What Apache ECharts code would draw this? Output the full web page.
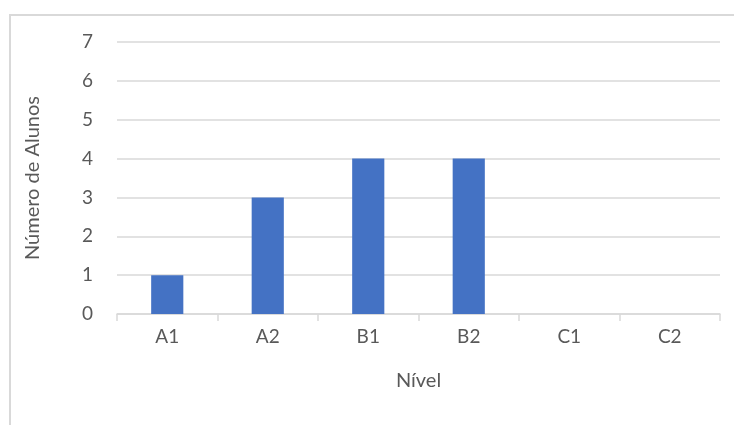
<!DOCTYPE html>
<html>
<head>
<meta charset="utf-8">
<script src="https://cdn.jsdelivr.net/npm/echarts@6/dist/echarts.min.js"></script>
<style>
  html, body { margin: 0; padding: 0; background: #fff; }
  #frame { position: absolute; left: 9px; top: 14px; width: 740px; height: 430px; border: 2px solid #d9d9d9; box-sizing: border-box; }
  #chart { position: absolute; left: 0; top: 0; width: 734px; height: 425px; }
</style>
</head>
<body>
<div id="frame"></div>
<div id="chart"></div>
<script>
// Students per language level
const levels = ['A1', 'A2', 'B1', 'B2', 'C1', 'C2'];
const students = [1, 3, 4, 4, 0, 0];
const yTicks = [0, 1, 2, 3, 4, 5, 6, 7];

const textColor = '#595959';
const lineColor = '#d9d9d9';
const fontFamily = 'Lato, "Open Sans", sans-serif';

const chart = echarts.init(document.getElementById('chart'), null, { renderer: 'canvas' });
chart.setOption({
  animation: false,
  grid: { left: 117, right: 14, top: 42, bottom: 111, containLabel: false },
  xAxis: {
    type: 'category',
    data: levels,
    name: 'Nível',
    nameLocation: 'middle',
    nameGap: 57,
    nameTextStyle: { color: textColor, fontSize: 20, fontFamily },
    axisLine: { lineStyle: { color: lineColor, width: 1.5 } },
    axisTick: { show: true, length: 7, lineStyle: { color: lineColor, width: 1.5 } },
    axisLabel: { color: textColor, fontSize: 19, fontFamily, margin: 13 },
    splitLine: { show: false }
  },
  yAxis: {
    type: 'value',
    min: yTicks[0],
    max: yTicks[yTicks.length - 1],
    interval: 1,
    name: 'Número de Alunos',
    nameLocation: 'middle',
    nameGap: 74,
    nameTextStyle: { color: textColor, fontSize: 20, fontFamily },
    axisLine: { show: false },
    axisTick: { show: false },
    axisLabel: { color: textColor, fontSize: 19, fontFamily, margin: 24 },
    splitLine: { lineStyle: { color: lineColor, width: 1.5 } }
  },
  series: [{
    type: 'bar',
    data: students,
    barWidth: '32%',
    itemStyle: { color: '#4472c4' }
  }]
});
</script>
</body>
</html>
